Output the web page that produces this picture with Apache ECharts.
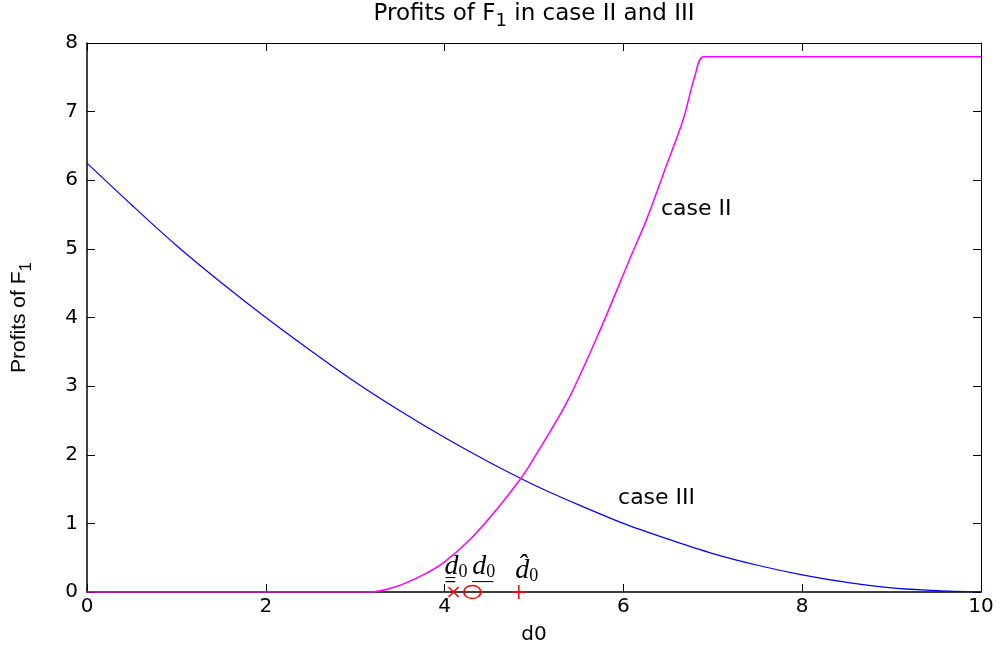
<!DOCTYPE html>
<html>
<head>
<meta charset="utf-8">
<script src="https://cdn.jsdelivr.net/npm/echarts@6/dist/echarts.min.js"></script>
<style>
  html, body { margin: 0; padding: 0; background: #fff; }
  #chart { width: 1006px; height: 653px; }
</style>
</head>
<body>
<div id="chart"></div>
<script>
// case III profits
const case3X = [0, 0.5, 1, 1.5, 2, 2.5, 3, 3.5, 4, 4.5, 5, 5.5, 6, 6.5, 7, 7.5, 8, 8.5, 9, 9.5, 10];
const case3Y = [6.25, 5.64, 5.05, 4.51, 4.0, 3.52, 3.06, 2.64, 2.25, 1.89, 1.56, 1.27, 1.0, 0.77, 0.56, 0.39, 0.25, 0.14, 0.06, 0.02, 0];

// case II profits
const case2X = [0, 1, 2, 3, 3.17, 3.46, 3.76, 4.0, 4.28, 4.58, 4.85, 4.99, 5.37, 5.74, 6.07, 6.26, 6.48, 6.67, 6.8, 6.9, 8, 9, 10];
const case2Y = [0, 0, 0, 0, 0, 0.08, 0.25, 0.44, 0.76, 1.2, 1.65, 1.93, 2.77, 3.82, 4.85, 5.43, 6.21, 6.89, 7.52, 7.8, 7.8, 7.8, 7.8];

// threshold markers on the d0 axis
const crossX = [4.1];
const circleX = [4.31];
const plusX = [4.83];

// math labels above the markers (left edge of each label)
const mathLabelX = [4.0, 4.31, 4.79];
const mathLabelY = [0.13, 0.13, 0.13];
const mathLabelText = ['{d|d}{s|0}\n{u|=}', '{d|d}{s|0}\n{u|\u2014}', '{d|d\u0302}{s|0}'];

// curve annotations
const curveLabelX = [6.42, 5.94];
const curveLabelY = [5.58, 1.37];
const curveLabelText = ['case II', 'case III'];

const xTicks = [0, 2, 4, 6, 8, 10];
const yTicks = [0, 1, 2, 3, 4, 5, 6, 7, 8];

const font = 'DejaVu Sans, sans-serif';
const serif = 'Liberation Serif, serif';
const pairs = (xs, ys) => xs.map((x, i) => [x, ys[i]]);

const chart = echarts.init(document.getElementById('chart'));

const tickStyle = { show: true, inside: true, length: 8, lineStyle: { color: '#000', width: 1 } };

chart.setOption({
  animation: false,
  title: {
    text: 'Profits of F{sub|1} in case II and III',
    left: 534,
    textAlign: 'center',
    top: -2,
    padding: 0,
    textStyle: {
      fontFamily: font,
      fontSize: 23,
      fontWeight: 'normal',
      color: '#000',
      rich: {
        sub: { fontFamily: font, fontSize: 18, color: '#000', padding: [14, 0, 0, 0] },
      },
    },
  },
  grid: { left: 87, right: 25, top: 43, bottom: 61 },
  xAxis: [{
    type: 'value',
    min: 0,
    max: 10,
    interval: 2,
    name: 'd0',
    nameLocation: 'middle',
    nameGap: 33,
    nameTextStyle: { fontFamily: font, fontSize: 20, color: '#000' },
    axisLine: { show: true, onZero: false, lineStyle: { color: '#000', width: 1.5 } },
    axisTick: tickStyle,
    axisLabel: { fontFamily: font, fontSize: 20, color: '#000', margin: 5,
      formatter: (v) => (xTicks.indexOf(v) >= 0 ? String(v) : '') },
    splitLine: { show: false },
  }, {
    type: 'value',
    position: 'top',
    min: 0,
    max: 10,
    interval: 2,
    axisLine: { show: true, onZero: false, lineStyle: { color: '#000', width: 1 } },
    axisTick: tickStyle,
    axisLabel: { show: false },
    splitLine: { show: false },
  }],
  yAxis: [{
    type: 'value',
    min: 0,
    max: 8,
    interval: 1,
    name: 'Profits of F{sub|1}',
    nameLocation: 'middle',
    nameGap: 52,
    nameRotate: 90,
    nameTextStyle: {
      fontFamily: 'Liberation Sans, Arial, sans-serif', fontSize: 21, color: '#000',
      rich: { sub: { fontFamily: 'Liberation Sans, Arial, sans-serif', fontSize: 17, color: '#000', padding: [14, 0, 0, 0] } },
    },
    axisLine: { show: true, onZero: false, lineStyle: { color: '#000', width: 1.5 } },
    axisTick: tickStyle,
    axisLabel: { fontFamily: font, fontSize: 20, color: '#000', margin: 9,
      formatter: (v) => (yTicks.indexOf(v) >= 0 ? String(v) : '') },
    splitLine: { show: false },
  }, {
    type: 'value',
    position: 'right',
    min: 0,
    max: 8,
    interval: 1,
    axisLine: { show: true, onZero: false, lineStyle: { color: '#000', width: 1 } },
    axisTick: tickStyle,
    axisLabel: { show: false },
    splitLine: { show: false },
  }],
  series: [{
    name: 'case III',
    type: 'line',
    data: pairs(case3X, case3Y),
    smooth: 0.3,
    showSymbol: false,
    lineStyle: { color: '#0000ff', width: 1.2 },
    z: 3,
  }, {
    name: 'case II',
    type: 'line',
    data: pairs(case2X, case2Y),
    smooth: 0.3,
    showSymbol: false,
    lineStyle: { color: '#ff00ff', width: 1.5 },
    z: 3,
  }, {
    type: 'scatter',
    data: crossX.map((x) => [x, 0]),
    symbol: 'path://M0,0L10,10M10,0L0,10',
    symbolSize: 10,
    itemStyle: { color: 'transparent', borderColor: '#ff0000', borderWidth: 1.5, opacity: 1 },
    z: 5,
  }, {
    type: 'scatter',
    data: circleX.map((x) => [x, 0]),
    symbol: 'circle',
    symbolSize: [17, 13],
    symbolKeepAspect: false,
    itemStyle: { color: 'transparent', borderColor: '#ff0000', borderWidth: 1.5, opacity: 1 },
    z: 5,
  }, {
    type: 'scatter',
    data: plusX.map((x) => [x, 0]),
    symbol: 'path://M0,5L10,5M5,0L5,10',
    symbolSize: 14,
    itemStyle: { color: 'transparent', borderColor: '#ff0000', borderWidth: 1.5, opacity: 1 },
    z: 5,
  }, {
    type: 'scatter',
    data: pairs(mathLabelX, mathLabelY),
    symbolSize: 0,
    itemStyle: { opacity: 1 },
    label: {
      show: true,
      position: [0, 0],
      align: 'left',
      verticalAlign: 'bottom',
      formatter: (p) => mathLabelText[p.dataIndex],
      rich: {
        d: { fontFamily: serif, fontStyle: 'italic', fontSize: 28, color: '#000', lineHeight: 24 },
        s: { fontFamily: serif, fontSize: 18, color: '#000', lineHeight: 24, padding: [10, 0, 0, 0] },
        u: { fontFamily: serif, fontSize: 21, color: '#000', lineHeight: 4 },
      },
    },
    z: 6,
  }, {
    type: 'scatter',
    data: pairs(curveLabelX, curveLabelY),
    symbolSize: 0,
    itemStyle: { opacity: 1 },
    label: {
      show: true,
      position: 'right',
      distance: 0,
      formatter: (p) => curveLabelText[p.dataIndex],
      fontFamily: font,
      fontSize: 22,
      color: '#000',
    },
    z: 6,
  }],
});
</script>
</body>
</html>
